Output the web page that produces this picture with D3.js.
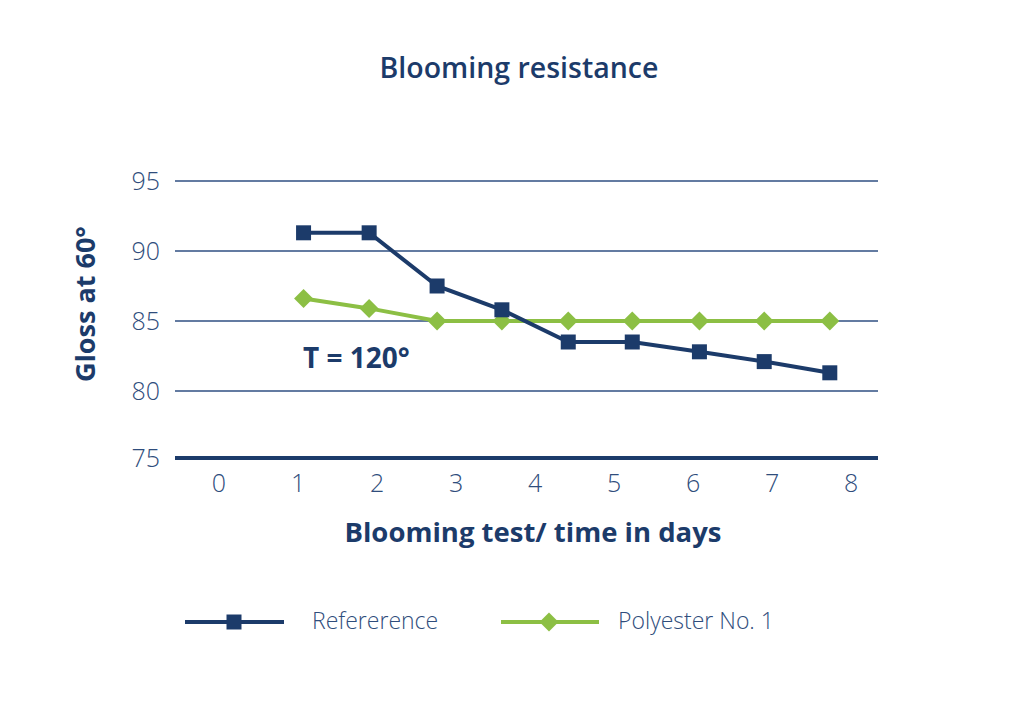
<!DOCTYPE html>
<html><head><meta charset="utf-8">
<script src="https://cdn.jsdelivr.net/npm/d3@7"></script>
<style>body{margin:0;background:#fff;}svg{display:block;}</style>
</head><body>
<svg id="c" width="1024" height="716"></svg>
<script>
const title = "Blooming resistance";
const yLabel = "Gloss at 60°";
const xLabel = "Blooming test/ time in days";
const note = "T = 120°";
const xTicks = [0,1,2,3,4,5,6,7,8];
const yTicks = [75,80,85,90,95];
const days = [1.07,1.9,2.76,3.58,4.42,5.23,6.08,6.9,7.73];
const referenceValues = [91.3,91.3,87.5,85.8,83.5,83.5,82.8,82.1,81.3];
const polyesterValues = [86.6,85.9,85.0,85.0,85.0,85.0,85.0,85.0,85.0];
const seriesNames = ["Refererence","Polyester No. 1"];

const navy = "#1c3b6a", green = "#8cbf44", tickCol = "#2f4d7c";
const font = "'Open Sans', sans-serif";
const svg = d3.select("#c");
const x = d3.scaleLinear().domain([-0.557, 8.34]).range([175, 878]);
const y = d3.scaleLinear().domain([75, 95]).range([461, 181]);

svg.append("text").attr("x",519).attr("y",78).attr("text-anchor","middle")
  .attr("font-family",font).attr("font-weight",600).attr("font-size",28.5).attr("fill",navy).text(title);

svg.append("g").selectAll("line").data(yTicks.filter(d=>d>75)).join("line")
  .attr("x1",175).attr("x2",878).attr("y1",d=>y(d)).attr("y2",d=>y(d))
  .attr("stroke","#2f4f82").attr("stroke-width",1.5);
svg.append("line").attr("x1",175).attr("x2",878).attr("y1",458).attr("y2",458)
  .attr("stroke",navy).attr("stroke-width",4);

svg.append("g").selectAll("text").data(yTicks).join("text")
  .attr("x",160).attr("y",d=>d===75?y(d)-3+9:y(d)+9).attr("text-anchor","end")
  .attr("font-family",font).attr("font-weight",300).attr("font-size",25).attr("fill",tickCol).text(d=>d);
svg.append("g").selectAll("text").data(xTicks).join("text")
  .attr("x",d=>x(d)).attr("y",492).attr("text-anchor","middle")
  .attr("font-family",font).attr("font-weight",300).attr("font-size",25).attr("fill",tickCol).text(d=>d);

svg.append("text").attr("transform","translate(95,304) rotate(-90)").attr("text-anchor","middle")
  .attr("font-family",font).attr("font-weight",700).attr("font-size",27).attr("fill",navy).text(yLabel);
svg.append("text").attr("x",533).attr("y",542).attr("text-anchor","middle")
  .attr("font-family",font).attr("font-weight",700).attr("font-size",27.5).attr("fill",navy).text(xLabel);
svg.append("text").attr("x",303).attr("y",368)
  .attr("font-family",font).attr("font-weight",700).attr("font-size",28).attr("fill",navy).text(note);

const line = d3.line().x(d=>x(d[0])).y(d=>y(d[1]));
const refData = days.map((d,i)=>[d,referenceValues[i]]);
const polyData = days.map((d,i)=>[d,polyesterValues[i]]);

svg.append("path").attr("d",line(polyData)).attr("fill","none").attr("stroke",green).attr("stroke-width",4);
svg.append("path").attr("d",line(refData)).attr("fill","none").attr("stroke",navy).attr("stroke-width",4);
const sq = d3.symbol().type(d3.symbolSquare).size(225);
const dm = d3.symbol().type(d3.symbolSquare).size(180);
svg.append("g").selectAll("path").data(polyData).join("path")
  .attr("d",dm).attr("transform",d=>`translate(${x(d[0])},${y(d[1])}) rotate(45)`).attr("fill",green);
svg.append("g").selectAll("path").data(refData).join("path")
  .attr("d",sq).attr("transform",d=>`translate(${x(d[0])},${y(d[1])})`).attr("fill",navy);

const lg = svg.append("g");
lg.append("line").attr("x1",185).attr("x2",284).attr("y1",622).attr("y2",622).attr("stroke",navy).attr("stroke-width",4);
lg.append("path").attr("d",sq).attr("transform","translate(234,622)").attr("fill",navy);
lg.append("text").attr("x",312).attr("y",629).attr("font-family",font).attr("font-weight",300).attr("font-size",23).attr("fill",tickCol).text(seriesNames[0]);
lg.append("line").attr("x1",501).attr("x2",599).attr("y1",622).attr("y2",622).attr("stroke",green).attr("stroke-width",4);
lg.append("path").attr("d",dm).attr("transform","translate(549,622) rotate(45)").attr("fill",green);
lg.append("text").attr("x",618).attr("y",629).attr("font-family",font).attr("font-weight",300).attr("font-size",23).attr("fill",tickCol).text(seriesNames[1]);
</script>
</body></html>
